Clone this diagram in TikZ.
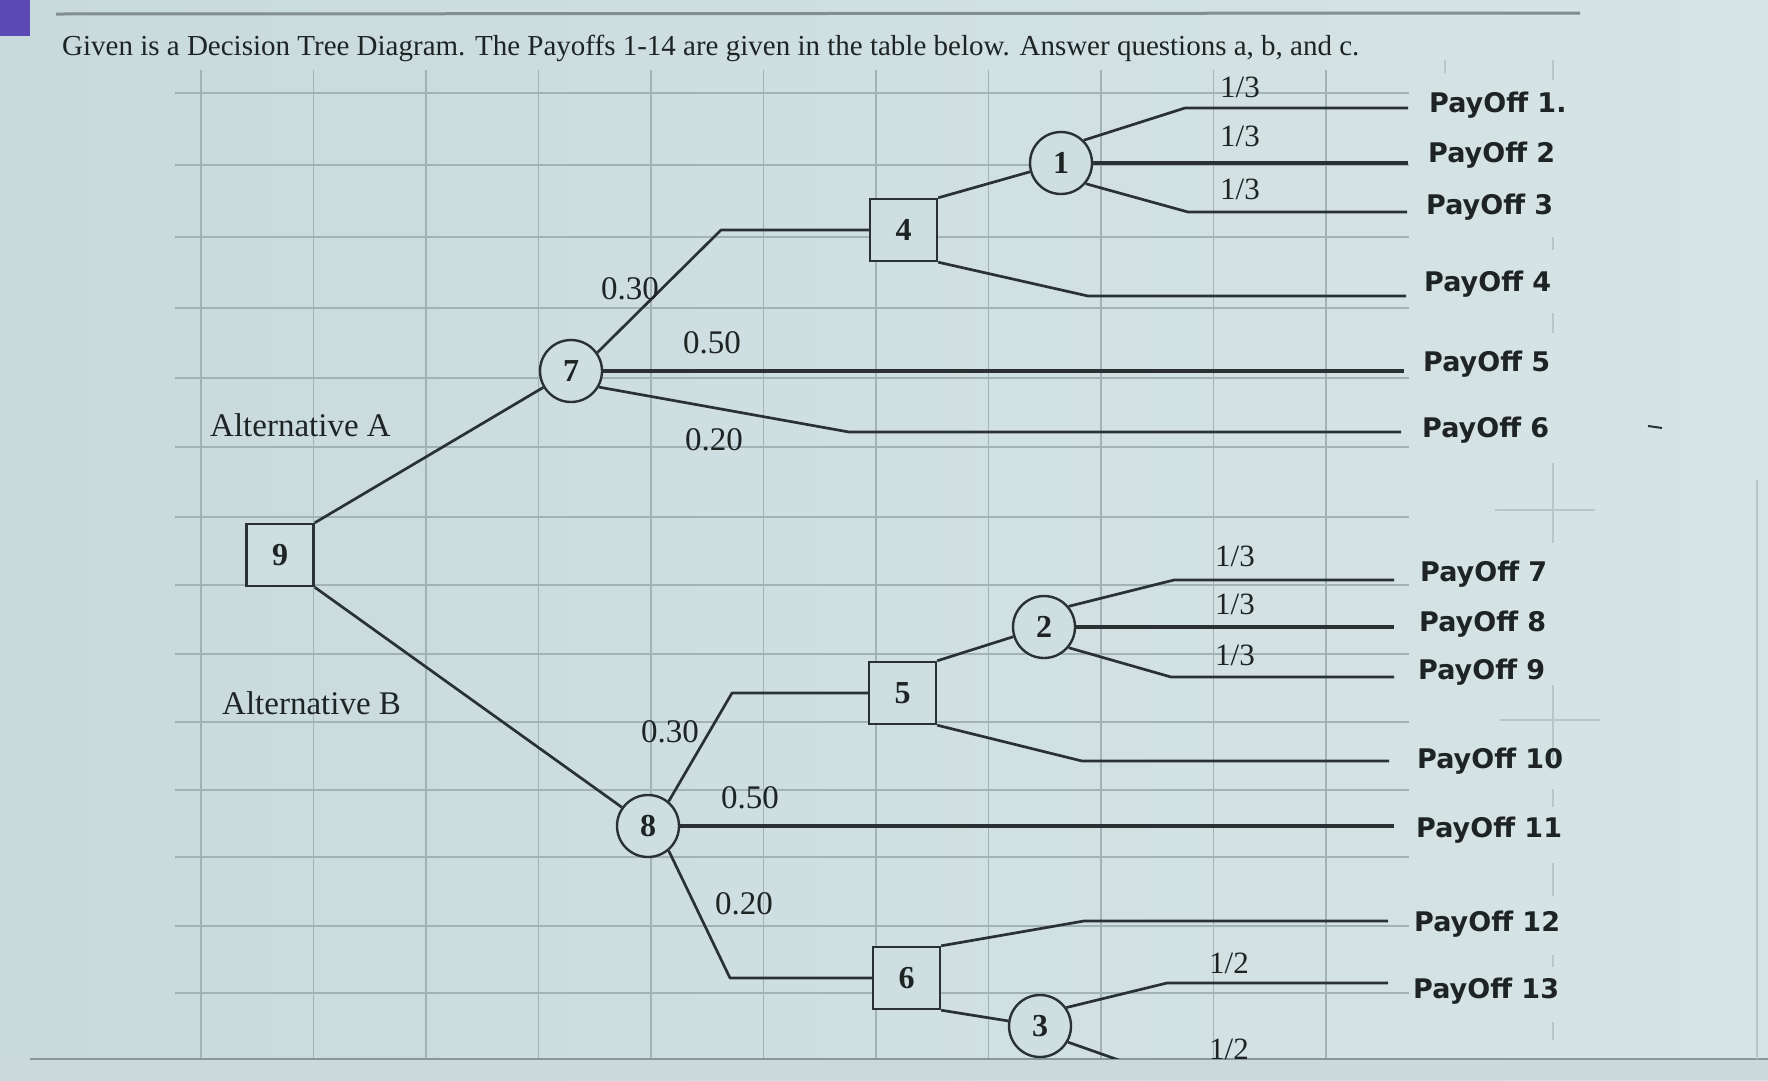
\documentclass[tikz,border=0pt]{standalone}
\usepackage{fontspec}
\setmainfont{Liberation Serif}
\newfontfamily\payfont{DejaVu Sans}
\definecolor{bgL}{HTML}{C9DADC}
\definecolor{bgR}{HTML}{D7E4E6}
\definecolor{nodebg}{HTML}{CFDEE0}
\definecolor{gridc}{HTML}{A2B2B5}
\definecolor{ghostc}{HTML}{B7C6C8}
\definecolor{linec}{HTML}{2A3132}
\definecolor{txt}{HTML}{1E2424}
\definecolor{tabc}{HTML}{5B4AB5}
\tikzset{
  gridline/.style={draw=gridc, line width=1.5pt},
  ghost/.style={draw=ghostc, line width=1.3pt},
  branch/.style={draw=linec, line width=2.7pt, line join=round},
  heavy/.style={draw=linec, line width=3.7pt},
  chance/.style={circle, draw=linec, line width=2.4pt, fill=nodebg, minimum size=62pt, inner sep=0pt,
    font=\fontsize{32}{34}\selectfont\bfseries, text=txt},
  decision/.style={rectangle, draw=linec, line width=2.4pt, fill=nodebg, minimum width=67pt,
    minimum height=62pt, inner sep=0pt, font=\fontsize{32}{34}\selectfont\bfseries, text=txt},
  prob/.style={font=\fontsize{33}{36}\selectfont, text=txt, inner sep=0pt},
  fraclab/.style={font=\fontsize{31}{34}\selectfont, text=txt, inner sep=0pt},
  payoff/.style={font=\payfont\bfseries\fontsize{27}{30}\selectfont, text=txt, anchor=base west, inner sep=0pt},
  altlab/.style={font=\fontsize{33}{36}\selectfont, text=txt, anchor=west, inner sep=0pt},
}
\begin{document}
\begin{tikzpicture}[x=1pt, y=-1pt]
\useasboundingbox (0,0) rectangle (1768,1080);
\fill[left color=bgL, right color=bgR] (0,0) rectangle (1768,1080);
\fill[bgL!92!black!40!bgR] (0,1059) rectangle (1768,1080);
% tab and top rule
\fill[tabc] (0,0) rectangle (30,36);
\draw[draw=gridc!80!black, line width=3pt] (56,14) -- (1580,13);
% title
\node[anchor=base west, inner sep=0pt, text=txt, font=\fontsize{29}{31}\selectfont] (title) at (62,55)
  {Given is a Decision Tree Diagram. The Payoffs 1-14 are given in the table below. Answer questions a, b, and c.};
% grid
\foreach \gx in {201,313.5,426,538.5,651,763.5,876,988.5,1101,1213.5,1326}
  \draw[gridline] (\gx,70) -- (\gx,1059);
\foreach \gy in {93,165,237,308,378,447,517,585,654,722,790,857,926,993}
  \draw[gridline] (175,\gy) -- (1409,\gy);
\draw[draw=gridc!85!black, line width=1.8pt] (30,1059) -- (1768,1059);
% ghost marks on the right
\draw[ghost] (1445,60) -- (1445,73);
\foreach \ya/\yb in {60/80,237/250,313/333,463/543,685/760,789/807,863/896,955/967,1022/1040}
  \draw[ghost] (1553,\ya) -- (1553,\yb);
\draw[ghost] (1495,510) -- (1595,510);
\draw[ghost] (1500,720) -- (1600,720);
\draw[ghost] (1757,480) -- (1757,1059);
\draw[linec, line width=2pt] (1648,426) -- (1662,428);
% nodes
\node[decision] (n9) at (280,555) {9};
\node[chance] (n7) at (571,371) {7};
\node[decision] (n4) at (903.5,230) {4};
\node[chance] (n1) at (1061,163) {1};
\node[chance] (n2) at (1044,627) {2};
\node[decision] (n5) at (902.5,693) {5};
\node[chance] (n8) at (648,826) {8};
\node[decision] (n6) at (906.5,978) {6};
\node[chance] (n3) at (1040,1026) {3};
% bends and ends
\coordinate (b74) at (721,230);
\coordinate (e5) at (1404,371);
\coordinate (b6) at (849,432); \coordinate (e6) at (1401,432);
\coordinate (b1) at (1185,108); \coordinate (e1) at (1408,108);
\coordinate (e2) at (1408,163);
\coordinate (b3) at (1188,212); \coordinate (e3) at (1407,212);
\coordinate (b4) at (1088,296); \coordinate (e4) at (1406,296);
\coordinate (b7) at (1174,580); \coordinate (e7) at (1394,580);
\coordinate (e8) at (1394,627);
\coordinate (b9) at (1171,677); \coordinate (e9) at (1394,677);
\coordinate (b10) at (1082,761); \coordinate (e10) at (1389,761);
\coordinate (b85) at (732,693);
\coordinate (e11) at (1394,826);
\coordinate (b86) at (730,978);
\coordinate (b12) at (1084,921); \coordinate (e12) at (1388,921);
\coordinate (b13) at (1167,983); \coordinate (e13) at (1388,983);
\coordinate (b14) at (1167,1077); \coordinate (e14) at (1388,1077);
% connectors
\draw[branch] (n9.north east) -- (n7);
\draw[branch] (n9.south east) -- (n8);
\draw[branch] (n7.35) -- (b74) -- (n4.west);
\draw[heavy] (n7.east) -- (e5);
\draw[branch] (n7.-30) -- (b6) -- (e6);
\draw[branch] (n4.north east) -- (n1);
\draw[branch] (n1.45) -- (b1) -- (e1);
\draw[heavy] (n1.east) -- (e2);
\draw[branch] (n1.-40) -- (b3) -- (e3);
\draw[branch] (n4.south east) -- (b4) -- (e4);
\draw[branch] (n5.north east) -- (n2);
\draw[branch] (n2.40) -- (b7) -- (e7);
\draw[heavy] (n2.east) -- (e8);
\draw[branch] (n2.-40) -- (b9) -- (e9);
\draw[branch] (n5.south east) -- (b10) -- (e10);
\draw[branch] (n8.50) -- (b85) -- (n5.west);
\draw[heavy] (n8.east) -- (e11);
\draw[branch] (n8.-50) -- (b86) -- (n6.west);
\draw[branch] (n6.north east) -- (b12) -- (e12);
\draw[branch] (n6.south east) -- (n3);
\draw[branch] (n3.35) -- (b13) -- (e13);
\begin{scope}
\clip (0,0) rectangle (1768,1058);
\draw[branch] (n3.-30) -- (b14) -- (e14);
\node[payoff] (p14) at (1413,1081) {PayOff 14};
\end{scope}
% probability labels
\node[prob] (l73) at (630,289) {0.30};
\node[prob] (l75) at (712,343) {0.50};
\node[prob] (l72) at (714,440) {0.20};
\node[prob] (l83) at (670,732) {0.30};
\node[prob] (l85) at (750,798) {0.50};
\node[prob] (l82) at (744,904) {0.20};
\node[fraclab] (f1) at (1240,87) {1/3};
\node[fraclab] (f2) at (1240,136) {1/3};
\node[fraclab] (f3) at (1240,189) {1/3};
\node[fraclab] (f7) at (1235,556) {1/3};
\node[fraclab] (f8) at (1235,604) {1/3};
\node[fraclab] (f9) at (1235,655) {1/3};
\node[fraclab] (f13) at (1229,963) {1/2};
\node[fraclab] (f14) at (1229,1049) {1/2};
% alternatives
\node[altlab] (altA) at (210,425) {Alternative A};
\node[altlab] (altB) at (222,703) {Alternative B};
% payoffs
\node[payoff] (p1) at (1429,112) {PayOff 1.};
\node[payoff] (p2) at (1428,162) {PayOff 2};
\node[payoff] (p3) at (1426,214) {PayOff 3};
\node[payoff] (p4) at (1424,291) {PayOff 4};
\node[payoff] (p5) at (1423,371) {PayOff 5};
\node[payoff] (p6) at (1422,437) {PayOff 6};
\node[payoff] (p7) at (1420,581) {PayOff 7};
\node[payoff] (p8) at (1419,631) {PayOff 8};
\node[payoff] (p9) at (1418,679) {PayOff 9};
\node[payoff] (p10) at (1417,768) {PayOff 10};
\node[payoff] (p11) at (1416,837) {PayOff 11};
\node[payoff] (p12) at (1414,931) {PayOff 12};
\node[payoff] (p13) at (1413,998) {PayOff 13};
\end{tikzpicture}
\end{document}
